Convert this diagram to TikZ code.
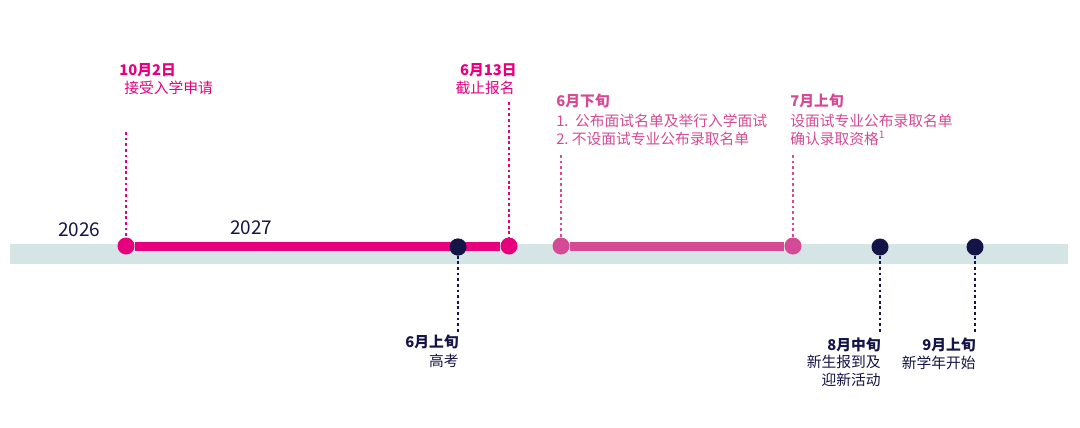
\documentclass[tikz,border=0pt]{standalone}
\usepackage{fontspec}
\setmainfont{Noto Sans CJK SC}
\usetikzlibrary{positioning}
\definecolor{band}{HTML}{D5E4E4}
\definecolor{hot}{HTML}{E6007E}
\definecolor{rose}{HTML}{D44A94}
\definecolor{navy}{HTML}{141446}
\tikzset{
  dot/.style={circle, inner sep=0pt, minimum size=17\pxl},
  stem/.style={line width=2pt, dotted},
  date/.style={font=\fontsize{10.5}{12}\selectfont\bfseries, inner sep=0pt},
  txt/.style={font=\fontsize{10.5}{12.5}\selectfont, inner sep=0pt, align=left},
  year/.style={font=\fontsize{13.5}{14}\selectfont, text=navy, inner sep=0pt}
}
\newlength{\pxl}
\setlength{\pxl}{0.025cm}
\begin{document}
\begin{tikzpicture}[x=0.025cm, y=-0.025cm]
\useasboundingbox (0,0) rectangle (1080,428);
% band
\fill[band] (10,244) rectangle (1068,264);

% dots on the line
\node[dot, fill=hot] (oct) at (126,246) {};
\node[dot, fill=hot] (jun13) at (509,246) {};
\node[dot, fill=navy] (gk) at (458,247) {};
\node[dot, fill=rose] (junlate) at (561,246) {};
\node[dot, fill=rose] (jul) at (793,246) {};
\node[dot, fill=navy] (aug) at (880,247) {};
\node[dot, fill=navy] (sep) at (975,247) {};
\draw[hot, line width=9\pxl] (oct) -- (jun13);
\draw[rose, line width=9\pxl] (junlate) -- (jul);
\node[dot, fill=navy] at (gk) {};

% years
\node[year, anchor=base west] (y26) at (58,236) {2026};
\node[year, anchor=base west] (y27) at (230,234) {2027};

% upper labels
\node[date, text=hot, anchor=base west] (oct-d) at (119,75) {10月2日};
\node[txt, text=hot, anchor=base west] (oct-t) at (124,93) {接受入学申请};
\node[date, text=hot, anchor=base east] (jun13-d) at (517,75) {6月13日};
\node[txt, text=hot, anchor=base east] (jun13-t) at (515,93) {截止报名};
\node[date, text=rose, anchor=base west] (junlate-d) at (556,106) {6月下旬};
\node[txt, text=rose, anchor=north west] (junlate-t) at (556,114) {1.\ \ 公布面试名单及举行入学面试\\2.\ 不设面试专业公布录取名单};
\node[date, text=rose, anchor=base west] (jul-d) at (790,106) {7月上旬};
\node[txt, text=rose, anchor=north west] (jul-t) at (790,114) {设面试专业公布录取名单\\确认录取资格\textsuperscript{1}};

% lower labels
\node[date, text=navy, anchor=base east] (gk-d) at (459,347) {6月上旬};
\node[txt, text=navy, anchor=base east] (gk-t) at (459,366) {高考};
\node[date, text=navy, anchor=base east] (aug-d) at (881,350) {8月中旬};
\node[txt, text=navy, anchor=north east, align=right] (aug-t) at (881,355) {新生报到及\\迎新活动};
\node[date, text=navy, anchor=base east] (sep-d) at (976,350) {9月上旬};
\node[txt, text=navy, anchor=base east] (sep-t) at (976,368) {新学年开始};

% stems
\coordinate (oct-s) at (126,132);
\coordinate (jun13-s) at (509,102);
\coordinate (junlate-s) at (561,155);
\coordinate (jul-s) at (793,155);
\coordinate (gk-s) at (458,332);
\coordinate (aug-s) at (880,332);
\coordinate (sep-s) at (975,332);
\draw[stem, hot] (oct-s) -- (oct);
\draw[stem, hot] (jun13-s) -- (jun13);
\draw[stem, rose] (junlate-s) -- (junlate);
\draw[stem, rose] (jul-s) -- (jul);
\draw[stem, navy] (gk) -- (gk-s);
\draw[stem, navy] (aug) -- (aug-s);
\draw[stem, navy] (sep) -- (sep-s);
\end{tikzpicture}
\end{document}
